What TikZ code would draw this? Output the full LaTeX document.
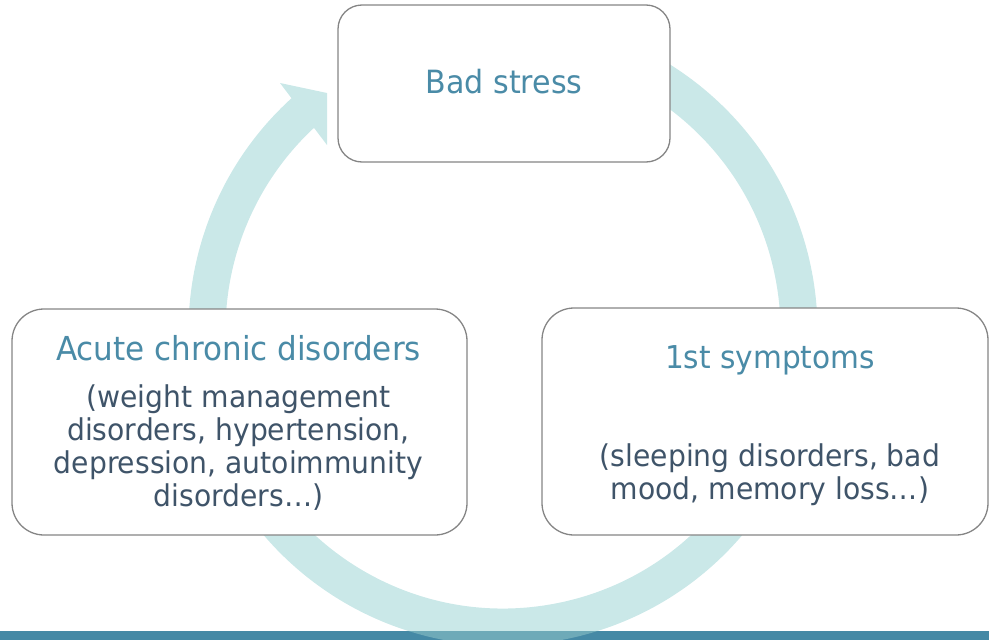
\documentclass[tikz,border=0pt]{standalone}
\usepackage{fontspec}
\setmainfont[FakeStretch=0.94]{DejaVu Sans}
\definecolor{arcC}{HTML}{CAE8E8}
\definecolor{arcB}{HTML}{6EAAB8}
\definecolor{barC}{HTML}{4589A5}
\definecolor{titleC}{HTML}{4A8BA7}
\definecolor{bodyC}{HTML}{3F5469}
\definecolor{borderC}{HTML}{858585}
\begin{document}
\begin{tikzpicture}[x=1pt,y=-1pt,
  box/.style={draw=borderC, line width=1.3pt, fill=white, inner sep=0pt, outer sep=0pt, rectangle},
  ttl/.style={text=titleC, inner sep=0pt, anchor=base},
  bdy/.style={text=bodyC, font=\fontsize{30}{33}\selectfont, inner sep=0pt, align=center, anchor=center}]
\useasboundingbox (0,0) rectangle (989,640);
% circular arrow
\draw[arcC, line width=37pt] (503,331) ++(-100:296) arc[start angle=-100, end angle=228, radius=296];
\fill[arcC] (280,83) -- (327,93) -- (327,145) -- cycle;
% bottom bar
\fill[barC] (0,631) rectangle (989,640);
\begin{scope}
  \clip (0,631) rectangle (989,640);
  \draw[arcB, line width=37pt] (503,331) ++(-100:296) arc[start angle=-100, end angle=228, radius=296];
\end{scope}
% boxes
\node[box, rounded corners=24pt, minimum width=332pt, minimum height=157pt] (stress) at (504,83.5) {};
\node[box, rounded corners=32pt, minimum width=455pt, minimum height=226pt] (acute) at (239.5,422) {};
\node[box, rounded corners=32pt, minimum width=446pt, minimum height=227pt] (sympt) at (765,421.5) {};
% texts
\node[ttl, font=\fontsize{32}{38}\selectfont] (stressT) at (504,93) {Bad stress};
\node[ttl, font=\fontsize{33}{38}\selectfont] (acuteT) at (238.5,360) {Acute chronic disorders};
\node[ttl, font=\fontsize{31.5}{38}\selectfont] (symptT) at (770,368) {1st symptoms};
\node[bdy] (acuteB) at (238.5,448) {(weight management\\disorders, hypertension,\\depression, autoimmunity\\disorders…)};
\node[bdy] (symptB) at (770,475) {(sleeping disorders, bad\\mood, memory loss…)};
\end{tikzpicture}
\end{document}
